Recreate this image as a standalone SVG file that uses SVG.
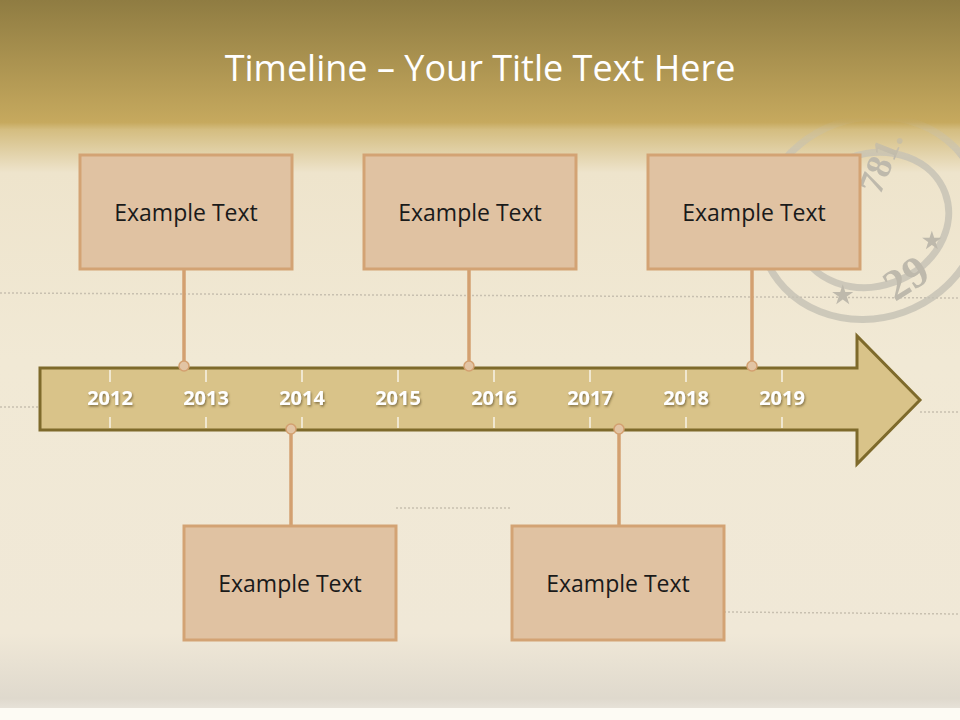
<svg xmlns="http://www.w3.org/2000/svg" width="960" height="720" viewBox="0 0 960 720">
<defs>
<linearGradient id="bg" x1="0" y1="0" x2="0" y2="1">
<stop offset="0" stop-color="#8F7C42"/>
<stop offset="0.17" stop-color="#C6A95E"/>
<stop offset="0.18" stop-color="#D4BD80"/>
<stop offset="0.24" stop-color="#EEE4CC"/>
<stop offset="0.5" stop-color="#F1E9D5"/>
<stop offset="0.88" stop-color="#F0E8D7"/>
<stop offset="0.97" stop-color="#DFD9CD"/>
<stop offset="0.983" stop-color="#E6E1D7"/>
<stop offset="0.984" stop-color="#FDFBF4"/>
<stop offset="1" stop-color="#FDFBF4"/>
</linearGradient>
<linearGradient id="sf" x1="0" y1="0" x2="0" y2="1">
<stop offset="0" stop-color="#fff" stop-opacity="0"/>
<stop offset="1" stop-color="#fff" stop-opacity="1"/>
</linearGradient>
<mask id="sm" maskUnits="userSpaceOnUse" x="700" y="0" width="260" height="400">
<rect x="700" y="118" width="260" height="40" fill="url(#sf)"/>
<rect x="700" y="157" width="260" height="243" fill="#fff"/>
</mask>
<filter id="sh" x="-20%" y="-20%" width="140%" height="140%">
<feDropShadow dx="1" dy="1.5" stdDeviation="0.8" flood-color="#5A4A20" flood-opacity="0.7"/>
</filter>
</defs>
<style>
.box{fill:#E0C2A2;stroke:#D3A374;stroke-width:3}
.lbl{font-family:"Open Sans","Liberation Sans",sans-serif;font-size:23px;fill:#1A1A1A;text-anchor:middle;dominant-baseline:central}
.yr{font-family:"Open Sans","Liberation Sans",sans-serif;font-weight:bold;font-size:20px;fill:#FFFFFF;text-anchor:middle;dominant-baseline:central}
.tick{stroke:#FFFFFF;stroke-width:1.2}
.con{stroke:#D3A070;stroke-width:3.5;fill:none}
.dot{fill:#E2C4A4;stroke:#D3A070;stroke-width:1.5}
.dl{stroke:#C8C0B0;stroke-width:1.5;stroke-dasharray:2 2}
.stamp{fill:none;stroke:#C4C0B4;stroke-width:7;opacity:0.8}
.stx{font-family:"Liberation Serif",serif;font-weight:bold;fill:#BEB9AC}
</style>
<rect width="960" height="720" fill="url(#bg)"/>
<g id="background">
<line class="dl" x1="0" y1="293" x2="960" y2="298"/>
<line class="dl" x1="0" y1="407" x2="40" y2="407"/>
<line class="dl" x1="920" y1="412" x2="960" y2="412"/>
<line class="dl" x1="396" y1="508" x2="512" y2="508"/>
<line class="dl" x1="724" y1="612" x2="960" y2="614"/>
<line class="dl" x1="218" y1="607" x2="277" y2="607"/>
<g id="stamp" mask="url(#sm)">
<ellipse class="stamp" cx="870" cy="218" rx="112" ry="100" transform="rotate(-20 870 218)"/>
<ellipse class="stamp" cx="872" cy="220" rx="78" ry="66" stroke-width="5" transform="rotate(-20 872 220)"/>
<text class="stx" x="895" y="302" font-size="44" transform="rotate(-32 895 302)">29</text>
<text class="stx" x="880" y="196" font-size="36" transform="rotate(-68 880 196)">781.</text>
<text class="stx" x="832" y="303" font-size="24">★</text>
<text class="stx" x="922" y="248" font-size="22">★</text>
</g>
</g>
<text id="title" x="480" y="67" font-family="'Open Sans','Liberation Sans',sans-serif" font-size="36" fill="#FFFFFF" text-anchor="middle" dominant-baseline="central">Timeline – Your Title Text Here</text>
<g id="arrow">
<path d="M40,368 H857 V336 L920,400 L857,464 V430 H40 Z" fill="#D9C389" stroke="#7E6A2B" stroke-width="3" stroke-linejoin="miter"/>
<g id="ticks">
<line class="tick" x1="110" y1="370" x2="110" y2="382"/><line class="tick" x1="110" y1="417" x2="110" y2="428"/>
<line class="tick" x1="206" y1="370" x2="206" y2="382"/><line class="tick" x1="206" y1="417" x2="206" y2="428"/>
<line class="tick" x1="302" y1="370" x2="302" y2="382"/><line class="tick" x1="302" y1="417" x2="302" y2="428"/>
<line class="tick" x1="398" y1="370" x2="398" y2="382"/><line class="tick" x1="398" y1="417" x2="398" y2="428"/>
<line class="tick" x1="494" y1="370" x2="494" y2="382"/><line class="tick" x1="494" y1="417" x2="494" y2="428"/>
<line class="tick" x1="590" y1="370" x2="590" y2="382"/><line class="tick" x1="590" y1="417" x2="590" y2="428"/>
<line class="tick" x1="686" y1="370" x2="686" y2="382"/><line class="tick" x1="686" y1="417" x2="686" y2="428"/>
<line class="tick" x1="782" y1="370" x2="782" y2="382"/><line class="tick" x1="782" y1="417" x2="782" y2="428"/>
</g>
<g id="years" filter="url(#sh)">
<text class="yr" x="110" y="397">2012</text>
<text class="yr" x="206" y="397">2013</text>
<text class="yr" x="302" y="397">2014</text>
<text class="yr" x="398" y="397">2015</text>
<text class="yr" x="494" y="397">2016</text>
<text class="yr" x="590" y="397">2017</text>
<text class="yr" x="686" y="397">2018</text>
<text class="yr" x="782" y="397">2019</text>
</g>
</g>
<g id="connectors">
<line class="con" x1="184" y1="269" x2="184" y2="366"/>
<line class="con" x1="469" y1="269" x2="469" y2="366"/>
<line class="con" x1="752" y1="269" x2="752" y2="366"/>
<line class="con" x1="291" y1="430" x2="291" y2="526"/>
<line class="con" x1="619" y1="430" x2="619" y2="526"/>
<circle class="dot" cx="184" cy="366" r="5"/>
<circle class="dot" cx="469" cy="366" r="5"/>
<circle class="dot" cx="752" cy="366" r="5"/>
<circle class="dot" cx="291" cy="429" r="5"/>
<circle class="dot" cx="619" cy="429" r="5"/>
</g>
<g id="node1"><rect class="box" x="80" y="155" width="212" height="114"/><text class="lbl" x="186" y="212">Example Text</text></g>
<g id="node2"><rect class="box" x="364" y="155" width="212" height="114"/><text class="lbl" x="470" y="212">Example Text</text></g>
<g id="node3"><rect class="box" x="648" y="155" width="212" height="114"/><text class="lbl" x="754" y="212">Example Text</text></g>
<g id="node4"><rect class="box" x="184" y="526" width="212" height="114"/><text class="lbl" x="290" y="583">Example Text</text></g>
<g id="node5"><rect class="box" x="512" y="526" width="212" height="114"/><text class="lbl" x="618" y="583">Example Text</text></g>
</svg>
